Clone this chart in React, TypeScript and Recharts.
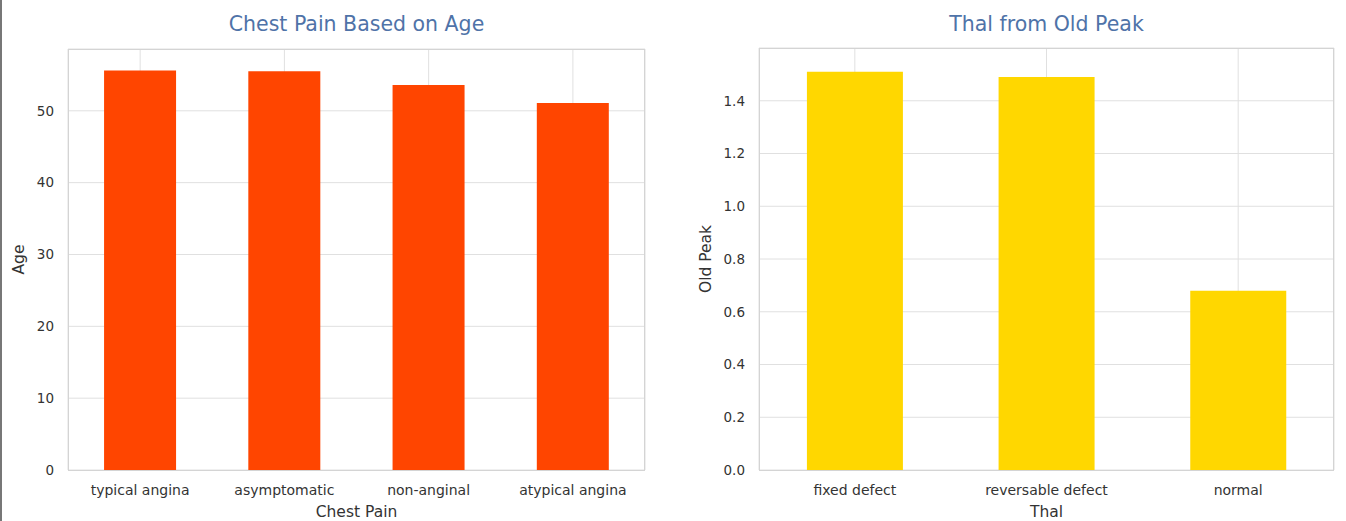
import React from "react";
import { BarChart, Bar, XAxis, YAxis, CartesianGrid } from "recharts";

const chestPainTypes = ["typical angina", "asymptomatic", "non-anginal", "atypical angina"];
const meanAge = [55.6, 55.5, 53.6, 51.1];
const ageTicks = [0, 10, 20, 30, 40, 50];

const thalTypes = ["fixed defect", "reversable defect", "normal"];
const meanOldPeak = [1.51, 1.49, 0.68];
const oldPeakTicks = [0, 0.2, 0.4, 0.6, 0.8, 1.0, 1.2, 1.4];

const ageData = chestPainTypes.map((name, i) => ({ name, age: meanAge[i] }));
const peakData = thalTypes.map((name, i) => ({ name, oldpeak: meanOldPeak[i] }));

const font = "'DejaVu Sans', sans-serif";
const xTick = { fontSize: 14, fill: "#333", fontFamily: font };
const yTick = { fontSize: 13.5, fill: "#333", fontFamily: font };
const axisLabel = { fontSize: 15.5, fill: "#333", fontFamily: font };
const gridColor = "#e0e0e0";

const titleStyle = (left: number, width: number): React.CSSProperties => ({
  position: "absolute",
  left,
  width,
  top: 12,
  textAlign: "center",
  fontSize: 20.5,
  color: "#4f73a8",
  fontFamily: font,
});

const frame = (left: number, top: number, w: number, h: number): React.CSSProperties => ({
  position: "absolute",
  left,
  top,
  width: w,
  height: h,
  border: "1px solid #d4d4d4",
  boxSizing: "border-box",
  pointerEvents: "none",
});

export default function App() {
  return (
    <div style={{ position: "absolute", left: 0, top: 0, width: 1346, height: 521, background: "#fff" }}>
      <div style={{ position: "absolute", left: 0, top: 0, width: 2, height: 521, background: "#777" }} />

      <div style={{ position: "absolute", left: 0, top: 0 }}>
        <BarChart
          width={680}
          height={521}
          data={ageData}
          margin={{ top: 49, right: 35, left: 0, bottom: 0 }}
          barCategoryGap="25%"
        >
          <CartesianGrid stroke={gridColor} />
          <XAxis
            dataKey="name"
            height={51}
            tickLine={false}
            axisLine={false}
            tickSize={0}
            tickMargin={15}
            tick={xTick}
            interval={0}
            label={{ value: "Chest Pain", position: "insideBottom", offset: 4, ...axisLabel }}
          />
          <YAxis
            width={68}
            domain={[0, 58.6]}
            ticks={ageTicks}
            tickLine={false}
            axisLine={false}
            tickSize={0}
            tickMargin={14}
            tick={yTick}
            label={{ value: "Age", angle: -90, position: "insideLeft", offset: 18, ...axisLabel, style: { textAnchor: "middle" } }}
          />
          <Bar dataKey="age" fill="#ff4500" isAnimationActive={false} />
        </BarChart>
      </div>
      <div style={frame(68, 49, 577, 422)} />
      <div style={titleStyle(68, 577)}>Chest Pain Based on Age</div>

      <div style={{ position: "absolute", left: 680, top: 0 }}>
        <BarChart
          width={666}
          height={521}
          data={peakData}
          margin={{ top: 48, right: 12, left: 0, bottom: 0 }}
          barCategoryGap="25%"
        >
          <CartesianGrid stroke={gridColor} />
          <XAxis
            dataKey="name"
            height={51}
            tickLine={false}
            axisLine={false}
            tickSize={0}
            tickMargin={15}
            tick={xTick}
            interval={0}
            label={{ value: "Thal", position: "insideBottom", offset: 4, ...axisLabel }}
          />
          <YAxis
            width={79}
            domain={[0, 1.6]}
            ticks={oldPeakTicks}
            tickFormatter={(v: number) => v.toFixed(1)}
            tickLine={false}
            axisLine={false}
            tickSize={0}
            tickMargin={14}
            tick={yTick}
            label={{ value: "Old Peak", angle: -90, position: "insideLeft", offset: 25, ...axisLabel, style: { textAnchor: "middle" } }}
          />
          <Bar dataKey="oldpeak" fill="#ffd700" isAnimationActive={false} />
        </BarChart>
      </div>
      <div style={frame(759, 48, 575, 423)} />
      <div style={titleStyle(759, 575)}>Thal from Old Peak</div>
    </div>
  );
}
